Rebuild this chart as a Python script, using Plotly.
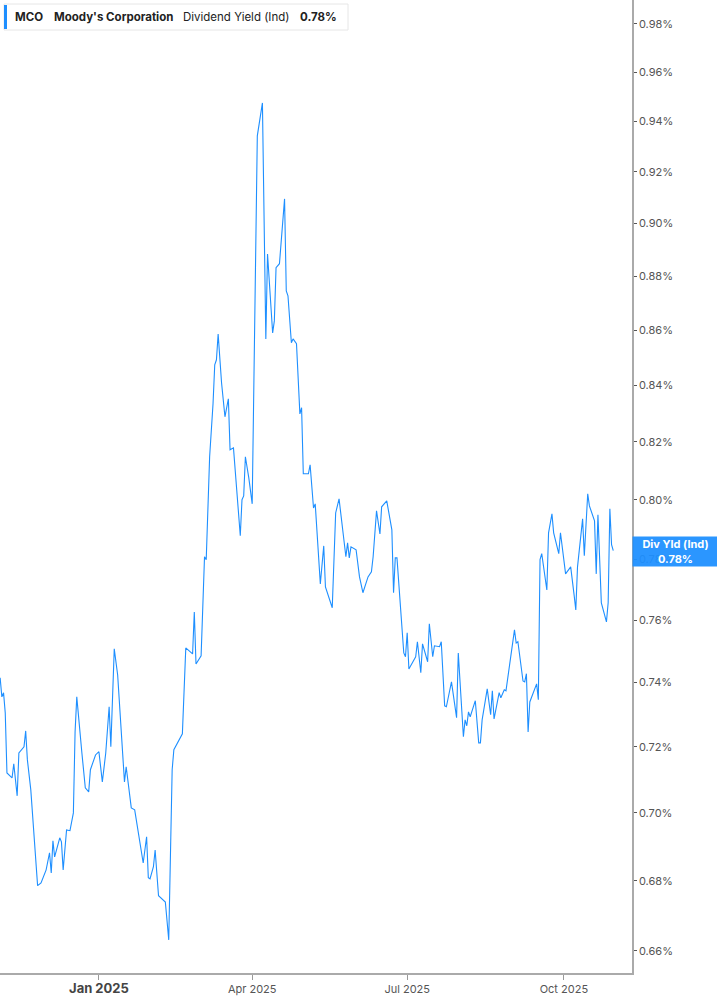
"""
MCO dividend yield (indicated) line chart, log scale, right-hand axis.
"""

import math

import pandas as pd
import plotly.graph_objects as go

# days counted from 2025-01-01 for each point
day_offsets = [
    -58, -57, -56, -55, -54, -51, -50, -48, -47, -44, -43, -42, -40, -36, -34,
    -31, -29, -28, -27, -26, -23, -22, -21, -19, -17, -15, -14, -13, -10, -8,
    -6, -5, -2, 0, 2, 4, 6, 7, 9, 11, 15, 16, 19, 21, 26, 28, 29, 30, 32, 33,
    35, 39, 41, 43, 44, 49, 51, 53, 55, 56, 57, 60, 62, 63, 65, 67, 68, 69,
    70, 72, 74, 76, 77, 79, 81, 83, 84, 85, 86, 88, 90, 93, 96, 98, 99, 100,
    102, 103, 104, 106, 109, 110, 111, 113, 114, 116, 118, 119, 120, 123, 124,
    126, 127, 130, 132, 133, 137, 139, 141, 145, 146, 147, 148, 151, 153, 155,
    158, 160, 161, 163, 165, 166, 169, 172, 173, 174, 175, 179, 180, 181, 182,
    186, 187, 189, 190, 193, 194, 196, 197, 200, 201, 203, 204, 207, 210, 211,
    214, 215, 216, 217, 218, 221, 223, 224, 225, 228, 230, 231, 232, 235, 236,
    238, 239, 244, 245, 246, 249, 250, 251, 252, 253, 257, 258, 259, 260, 263,
    264, 266, 267, 270, 271, 274, 277, 279, 280, 281, 284, 285, 287, 288, 291,
    292, 293, 295, 298, 299, 300, 301, 302,
]

# dividend yield in percent
yield_pct = [
    0.7415, 0.7355, 0.7368, 0.7305, 0.7120, 0.7105, 0.7148, 0.7051, 0.7181,
    0.7200, 0.7249, 0.7160, 0.7069, 0.6786, 0.6794, 0.6832, 0.6882, 0.6823,
    0.6917, 0.6870, 0.6926, 0.6914, 0.6832, 0.6949, 0.6947, 0.7000, 0.7246,
    0.7355, 0.7181, 0.7075, 0.7063, 0.7130, 0.7175, 0.7185, 0.7093, 0.7181,
    0.7324, 0.7200, 0.7507, 0.7424, 0.7093, 0.7139, 0.7015, 0.7009, 0.6852,
    0.6929, 0.6809, 0.6806, 0.6841, 0.6890, 0.6757, 0.6739, 0.6631, 0.7130,
    0.7191, 0.7240, 0.7510, 0.7501, 0.7491, 0.7626, 0.7459, 0.7485, 0.7808,
    0.7798, 0.8148, 0.8334, 0.8474, 0.8492, 0.8586, 0.8409, 0.8288, 0.8352,
    0.8172, 0.8179, 0.8013, 0.7878, 0.8000, 0.8013, 0.8148, 0.8075, 0.7986,
    0.9343, 0.9475, 0.8568, 0.8884, 0.8768, 0.8590, 0.8634, 0.8832, 0.8847,
    0.9095, 0.8745, 0.8727, 0.8554, 0.8568, 0.8550, 0.8298, 0.8320, 0.8089,
    0.8089, 0.8120, 0.7972, 0.7986, 0.7718, 0.7844, 0.7708, 0.7640, 0.7955,
    0.8003, 0.7808, 0.7854, 0.7804, 0.7841, 0.7831, 0.7741, 0.7689, 0.7741,
    0.7758, 0.7808, 0.7962, 0.7884, 0.7976, 0.7996, 0.7898, 0.7689, 0.7804,
    0.7804, 0.7494, 0.7482, 0.7559, 0.7443, 0.7482, 0.7530, 0.7431, 0.7523,
    0.7466, 0.7588, 0.7482, 0.7517, 0.7514, 0.7530, 0.7327, 0.7324, 0.7402,
    0.7290, 0.7494, 0.7231, 0.7283, 0.7265, 0.7308, 0.7293, 0.7343, 0.7212,
    0.7212, 0.7283, 0.7380, 0.7299, 0.7374, 0.7286, 0.7368, 0.7352, 0.7377,
    0.7374, 0.7568, 0.7526, 0.7530, 0.7405, 0.7402, 0.7428, 0.7246, 0.7339,
    0.7396, 0.7346, 0.7798, 0.7818, 0.7698, 0.7888, 0.7952, 0.7888, 0.7818,
    0.7888, 0.7751, 0.7774, 0.7682, 0.7633, 0.7774, 0.7935, 0.7811, 0.8020,
    0.7979, 0.7928, 0.7751, 0.7949, 0.7656, 0.7594, 0.7656, 0.7969, 0.7848,
    0.7828,
]

y_tick_values = [0.66, 0.68, 0.70, 0.72, 0.74, 0.76, 0.78, 0.80, 0.82, 0.84,
                 0.86, 0.88, 0.90, 0.92, 0.94, 0.96, 0.98]
y_tick_labels = [f"{v:.2f}%" for v in y_tick_values]

x_tick_dates = ["2025-01-01", "2025-04-01", "2025-07-01", "2025-10-01"]
x_tick_labels = [
    "<span style='font-size:13px;color:#444'><b>Jan 2025</b></span>",
    "Apr 2025", "Jul 2025", "Oct 2025",
]

BLUE = "#1e8fff"
PLOT_W, PLOT_H = 632, 973  # plot area in pixels, used to place overlays

dates = pd.Timestamp("2025-01-01") + pd.to_timedelta(day_offsets, unit="D")
last_value = yield_pct[-1]

fig = go.Figure(
    go.Scatter(
        x=dates, y=yield_pct, mode="lines",
        line=dict(color=BLUE, width=1.1),
        hoverinfo="skip",
    )
)

fig.update_layout(
    width=717, height=1005,
    margin=dict(l=0, r=85, t=0, b=32),
    paper_bgcolor="white", plot_bgcolor="white",
    font=dict(family="Inter, Roboto, sans-serif", size=11, color="#555"),
    showlegend=False,
)

fig.update_xaxes(
    range=["2024-11-03 22:00", "2025-11-10"],
    tickvals=x_tick_dates, ticktext=x_tick_labels,
    ticks="outside", ticklen=5, tickcolor="#999", tickwidth=1,
    showgrid=False, zeroline=False,
    showline=True, linecolor="#aaa", linewidth=1.5,
    tickfont=dict(size=11, color="#555"),
)

fig.update_yaxes(
    type="log", side="right",
    range=[math.log10(0.6538), math.log10(0.990)],
    tickvals=y_tick_values, ticktext=y_tick_labels,
    ticks="outside", ticklen=3, tickcolor="#555", tickwidth=1,
    showgrid=False, zeroline=False,
    showline=True, linecolor="#aaa", linewidth=1.5,
    tickfont=dict(size=11, color="#555"),
)

# header box with ticker, name, metric
fig.add_shape(type="rect", xref="paper", yref="paper",
              x0=4 / PLOT_W, x1=348 / PLOT_W, y0=1 - 30 / PLOT_H, y1=1 - 4 / PLOT_H,
              line=dict(color="#e6e6e6", width=1), fillcolor="white", layer="above")
fig.add_shape(type="rect", xref="paper", yref="paper",
              x0=4 / PLOT_W, x1=7 / PLOT_W, y0=1 - 29 / PLOT_H, y1=1 - 5 / PLOT_H,
              line=dict(width=0), fillcolor=BLUE, layer="above")

header_parts = [
    (13, "<b>MCO</b>"),
    (52, "<b>Moody's Corporation</b>"),
    (181, "Dividend Yield (Ind)"),
    (298, f"<b>{last_value:.2f}%</b>"),
]
for px, text in header_parts:
    fig.add_annotation(
        x=px / PLOT_W, y=1 - 17 / PLOT_H, xref="paper", yref="paper",
        xanchor="left", yanchor="middle", showarrow=False, text=text,
        font=dict(size=11.5, color="#222"),
    )

# last value tag on the right axis (sits over the 0.78% tick, as in the source)
fig.add_annotation(
    x=1, y=1 - 551.5 / PLOT_H, xref="paper", yref="paper",
    xanchor="left", yanchor="middle", showarrow=False,
    text=f"<b>Div Yld (Ind)</b><br><b>{last_value:.2f}%</b>",
    font=dict(size=11, color="white"),
    bgcolor="rgba(30,143,255,0.94)", width=85, height=29, borderpad=0,
    align="center",
)

# page body has an 8px default margin; drop it so the figure fills the window
fig.write_html(
    "out.html",
    config={"displayModeBar": False},
    post_script="document.body.style.margin='0';",
)
